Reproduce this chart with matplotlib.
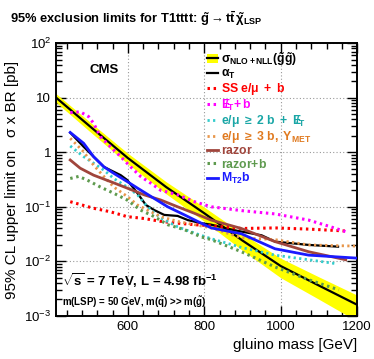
import numpy as np
import matplotlib
matplotlib.use("Agg")
import matplotlib.pyplot as plt
from matplotlib.ticker import FixedLocator, NullFormatter

plt.rcParams['font.family'] = ['Liberation Sans', 'DejaVu Sans']
plt.rcParams['mathtext.fontset'] = 'custom'
plt.rcParams['mathtext.rm'] = 'Liberation Sans'
plt.rcParams['mathtext.it'] = 'Liberation Sans:italic'
plt.rcParams['mathtext.bf'] = 'Liberation Sans:bold'
plt.rcParams['mathtext.sf'] = 'Liberation Sans'

# ---- data (gluino mass in GeV, limits in pb) ----
xsec_m = [412, 500, 600, 700, 800, 900, 1000, 1100, 1200]
xsec_v = [10.0, 3.0, 0.78, 0.23, 0.076, 0.024, 0.0082, 0.0036, 0.0016]
xsec_rel_unc = [0.18, 0.2, 0.22, 0.25, 0.29, 0.34, 0.39, 0.44, 0.50]

alphaT_m = [449, 484, 510, 537, 554, 581, 598, 625, 647, 669, 695, 730, 757, 792, 818, 880, 950, 985, 1073, 1150]
alphaT_v = [2.28, 1.26, 0.83, 0.54, 0.47, 0.38, 0.31, 0.177, 0.108, 0.087, 0.071, 0.068, 0.057, 0.050, 0.047,
            0.037, 0.030, 0.023, 0.020, 0.0186]

ss_m = [449, 510, 554, 598, 642, 686, 730, 774, 818, 897, 985, 1073, 1170]
ss_v = [0.124, 0.094, 0.081, 0.066, 0.061, 0.054, 0.050, 0.047, 0.045, 0.040, 0.041, 0.039, 0.036]

metb_m = [449, 475, 497, 510, 528, 554, 581, 607, 633, 660, 686, 730, 774, 818, 898, 985, 1073, 1126, 1170]
metb_v = [5.3, 5.5, 4.5, 3.4, 1.93, 1.26, 0.83, 0.54, 0.36, 0.27, 0.20, 0.166, 0.124, 0.10, 0.085, 0.074,
          0.057, 0.044, 0.035]

lep2b_m = [449, 484, 510, 537, 563, 598, 625, 651, 686, 730, 774, 818, 897, 985, 1073, 1148]
lep2b_v = [1.30, 0.83, 0.63, 0.47, 0.33, 0.23, 0.166, 0.10, 0.062, 0.043, 0.033, 0.026, 0.018, 0.013, 0.0107, 0.009]

lep3b_m = [449, 484, 510, 537, 563, 598, 625, 651, 686, 730, 774, 818, 897, 985, 1073, 1200]
lep3b_v = [1.8, 1.02, 0.58, 0.36, 0.23, 0.155, 0.108, 0.087, 0.066, 0.054, 0.047, 0.041, 0.027, 0.025, 0.020, 0.019]

razor_m = [449, 475, 510, 554, 598, 642, 686, 730, 774, 818, 897, 985, 1073, 1170]
razor_v = [0.72, 0.51, 0.38, 0.29, 0.22, 0.166, 0.133, 0.10, 0.076, 0.057, 0.040, 0.023, 0.015, 0.0107]

razorb_m = [449, 471, 493, 528, 563, 598, 633, 669, 704, 748, 792, 818, 897, 985, 1073, 1152]
razorb_v = [0.33, 0.36, 0.31, 0.23, 0.177, 0.133, 0.087, 0.066, 0.047, 0.038, 0.028, 0.025, 0.015, 0.0079,
            0.0046, 0.003]

mt2b_m = [449, 484, 510, 537, 563, 598, 625, 660, 704, 748, 792, 818, 897, 985, 1073, 1196]
mt2b_v = [2.3, 1.46, 0.83, 0.54, 0.41, 0.29, 0.22, 0.155, 0.10, 0.071, 0.050, 0.041, 0.032, 0.017, 0.013, 0.0115]

legend_labels = [
    r'$\mathbf{\sigma_{NLO+NLL}(\tilde{g}\tilde{g})}$',
    r'$\mathbf{\alpha_T}$',
    r'$\mathbf{SS\ e/\mu\ +\ b}$',
    r'$\mathbf{E\!\!\!/_T\!+b}$',
    r'$\mathbf{e/\mu\ \geq\ 2\ b\ +\ E\!\!\!/_T}$',
    r'$\mathbf{e/\mu\ \geq\ 3\ b,\ Y_{MET}}$',
    r'$\mathbf{razor}$',
    r'$\mathbf{razor{+}b}$',
    r'$\mathbf{M_{T2}b}$',
]

fig = plt.figure(figsize=(3.74, 3.59), dpi=100)
ax = fig.add_axes([0.150, 0.120, 0.805, 0.760])

dot = (0, (0.8, 1.2))
xm = np.array(xsec_m, float)
xv = np.array(xsec_v, float)
xu = np.array(xsec_rel_unc, float)
band = ax.fill_between(xm, xv * (1 - xu), xv * (1 + xu), color='#ffff00', lw=0, zorder=2)
l_x, = ax.plot(xm, xv, color='black', lw=1.6, zorder=3)

l_a, = ax.plot(alphaT_m, alphaT_v, color='black', lw=1.6, zorder=4)
l_ss, = ax.plot(ss_m, ss_v, color='#ff0000', lw=2.2, ls=dot, zorder=4)
l_mb, = ax.plot(metb_m, metb_v, color='#ff00ff', lw=2.2, ls=dot, zorder=4)
l_2b, = ax.plot(lep2b_m, lep2b_v, color='#33cccc', lw=2.0, ls=dot, zorder=4)
l_3b, = ax.plot(lep3b_m, lep3b_v, color='#e8964a', lw=2.0, ls=dot, zorder=4)
l_r, = ax.plot(razor_m, razor_v, color='#a0453c', lw=2.0, zorder=4)
l_rb, = ax.plot(razorb_m, razorb_v, color='#5e9a4e', lw=2.2, ls=dot, zorder=4)
l_mt, = ax.plot(mt2b_m, mt2b_v, color='#1a1aff', lw=2.0, zorder=4)

ax.set_yscale('log')
ax.set_xlim(412, 1200)
ax.set_ylim(1e-3, 1e2)

ax.xaxis.set_major_locator(FixedLocator([600, 800, 1000, 1200]))
ax.xaxis.set_minor_locator(FixedLocator(np.arange(440, 1200, 40)))
ax.set_xticklabels(['600', '800', '1000', '1200'])
ax.yaxis.set_major_locator(FixedLocator([1e-3, 1e-2, 1e-1, 1, 10, 100]))
ax.set_yticklabels([r'$10^{-3}$', r'$10^{-2}$', r'$10^{-1}$', '1', '10', r'$10^{2}$'])
ax.yaxis.set_minor_locator(FixedLocator([k * 10.0 ** e for e in range(-3, 2) for k in range(2, 10)]))
ax.yaxis.set_minor_formatter(NullFormatter())
ax.tick_params(which='both', direction='in', top=True, right=True, labelsize=9.5, width=1.0)
ax.tick_params(which='major', length=7)
ax.tick_params(which='minor', length=4)
ax.grid(True, which='major', ls=(0, (1, 2)), color='#999999', lw=0.8)
for s in ax.spines.values():
    s.set_linewidth(1.4)

ax.set_ylabel('95% CL upper limit on   \u03c3 x BR [pb]', fontsize=11)
ax.set_xlabel('gluino mass [GeV]', fontsize=11, loc='right')

fig.text(0.027, 0.935, r'95% exclusion limits for T1tttt: $\mathbf{\tilde{g} \rightarrow t\bar{t}\,\tilde{\chi}_{LSP}}$',
         fontsize=9.3, fontweight='bold')
ax.text(0.11, 0.89, 'CMS', transform=ax.transAxes, fontsize=9.5, fontweight='bold')
ax.text(0.02, 0.11, r'$\mathbf{\sqrt{s}}$ = 7 TeV, L = 4.98 fb$\mathbf{^{-1}}$', transform=ax.transAxes,
        fontsize=9.5, fontweight='bold')
ax.text(0.02, 0.035, r'm(LSP) = 50 GeV, m($\mathbf{\tilde{q}}$) >> m($\mathbf{\tilde{g}}$)', transform=ax.transAxes,
        fontsize=7, fontweight='bold')

handles = [(band, l_x), l_a, l_ss, l_mb, l_2b, l_3b, l_r, l_rb, l_mt]
colors = ['black', 'black', '#ff0000', '#ff00ff', '#1aa6a6', '#e07a20', '#a0453c', '#5e9a4e', '#1a1aff']
leg = ax.legend(handles, legend_labels, loc='upper left', bbox_to_anchor=(0.50, 0.975), frameon=False,
                fontsize=8.8, handlelength=0.9, handletextpad=0.3, labelspacing=0.02, borderaxespad=0.0,
                borderpad=0.0)
for t, c in zip(leg.get_texts(), colors):
    t.set_color(c)

fig.savefig('out.png', dpi=100)
